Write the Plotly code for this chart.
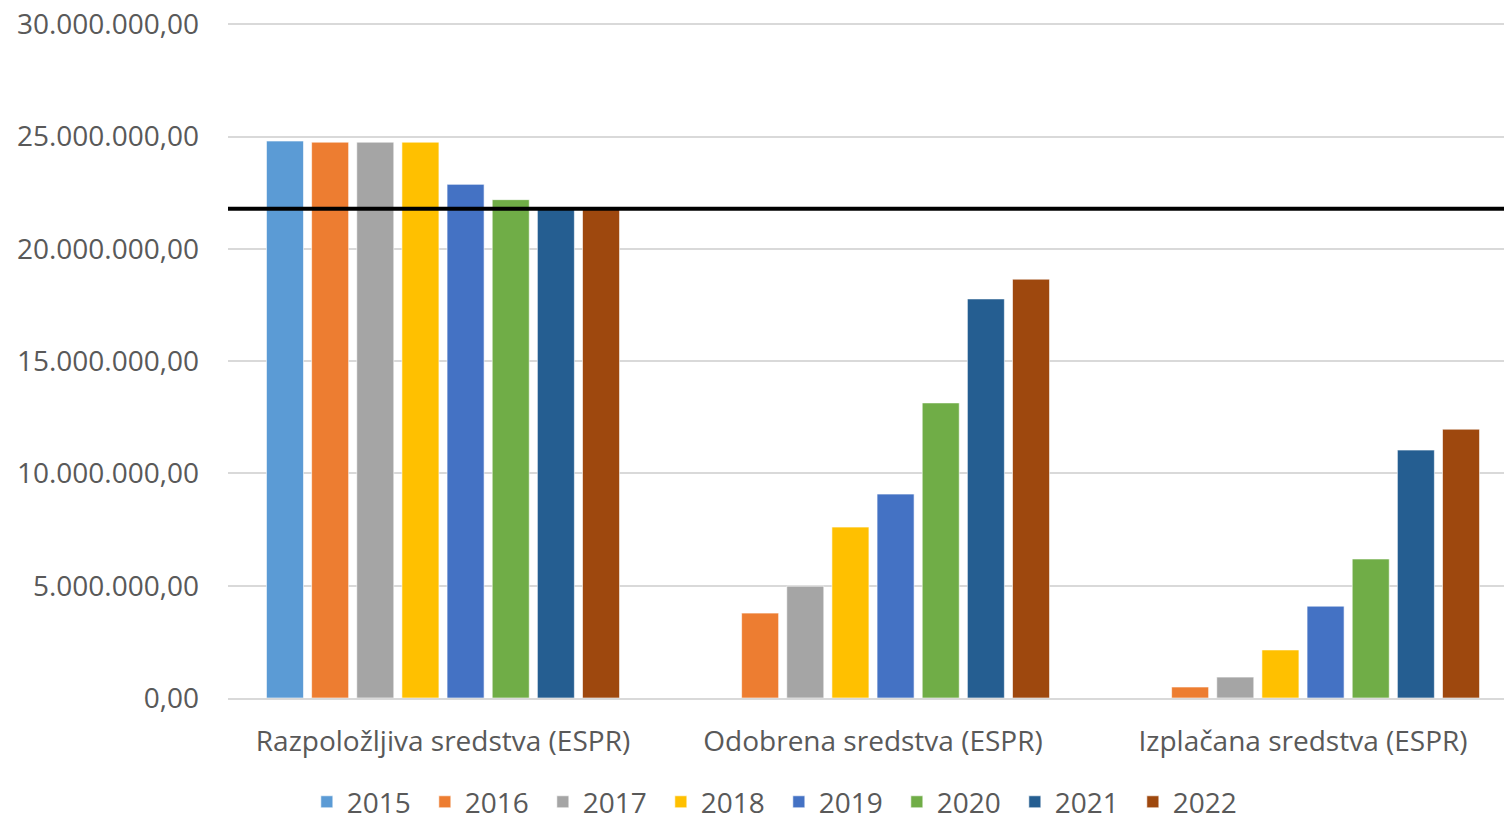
import plotly.graph_objects as go

categories = ["Razpoložljiva sredstva (ESPR)", "Odobrena sredstva (ESPR)", "Izplačana sredstva (ESPR)"]
years = ["2015", "2016", "2017", "2018", "2019", "2020", "2021", "2022"]
colors = ["#5B9BD5", "#ED7D31", "#A5A5A5", "#FFC000", "#4472C4", "#70AD47", "#255E91", "#9E480E"]

v2015 = [24800000, 0, 0]
v2016 = [24750000, 3780000, 490000]
v2017 = [24750000, 4980000, 930000]
v2018 = [24750000, 7610000, 2140000]
v2019 = [22870000, 9080000, 4090000]
v2020 = [22190000, 13140000, 6190000]
v2021 = [21780000, 17770000, 11040000]
v2022 = [21780000, 18650000, 11970000]
series = [v2015, v2016, v2017, v2018, v2019, v2020, v2021, v2022]

reference_line = 21780000
tick_values = [0, 5000000, 10000000, 15000000, 20000000, 25000000, 30000000]

font_family = "Open Sans, Lato, sans-serif"
text_color = "#595959"

fig = go.Figure()
for name, vals, col in zip(years, series, colors):
    fig.add_trace(go.Bar(
        x=categories, y=vals, name=name,
        marker=dict(color=col, line=dict(color="rgba(255,255,255,0.6)", width=1)),
    ))

fig.add_shape(type="line", xref="paper", yref="y", x0=0, x1=1,
              y0=reference_line, y1=reference_line,
              line=dict(color="black", width=4), layer="above")

# page body has an 8px margin; plot area runs slightly past the window edge, as in the reference
fig.update_layout(
    width=1510, height=807,
    margin=dict(l=220, r=0, t=14, b=117),
    paper_bgcolor="white", plot_bgcolor="white",
    barmode="group", bargap=0.16, bargroupgap=0.18,
    separators=",.",
    font=dict(family=font_family, size=28, color=text_color),
    showlegend=True,
    legend=dict(orientation="h", xref="paper", yref="container",
                x=0.427, xanchor="center", y=0.016, yanchor="middle",
                font=dict(size=28, color=text_color),
                entrywidth=73, entrywidthmode="pixels",
                traceorder="normal"),
    yaxis=dict(range=[0, 30100000], tickvals=tick_values, tickformat=",.2f",
               showgrid=True, gridcolor="#D9D9D9", gridwidth=1.5,
               zeroline=False, showline=False, ticks="",
               ticklabelstandoff=28, ticklabeloverflow="allow",
               automargin=False),
    xaxis=dict(showline=True, linecolor="#D9D9D9", linewidth=1.5, ticks="",
               ticklabelstandoff=18, automargin=False),
)

fig.write_html("out.html")
